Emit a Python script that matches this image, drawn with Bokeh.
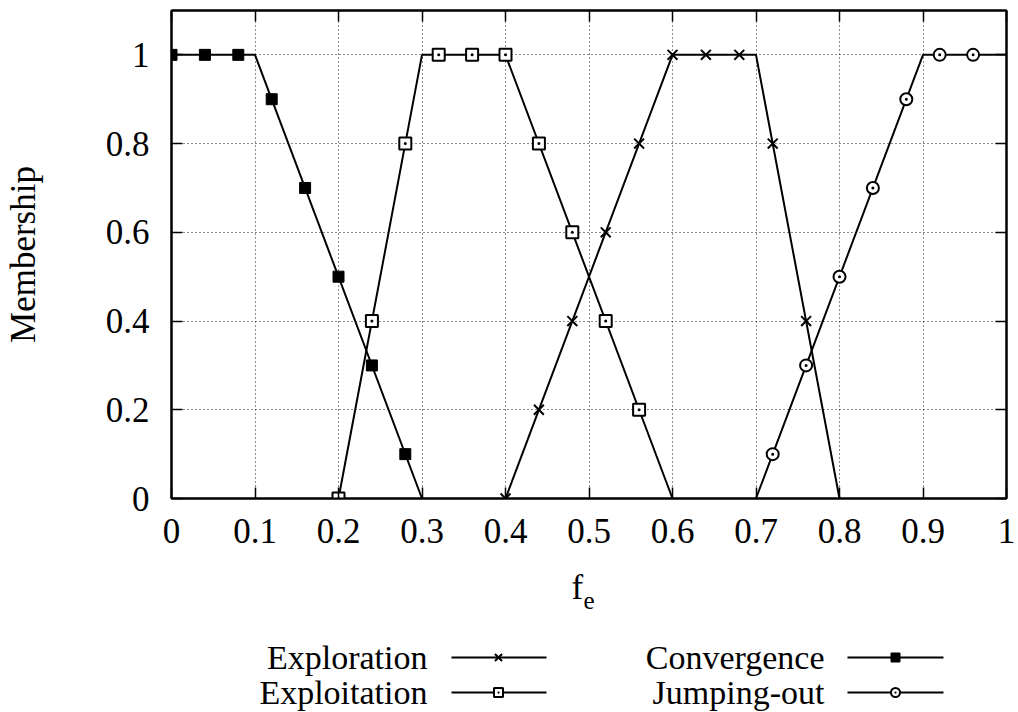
from bokeh.plotting import figure
from bokeh.layouts import column
from bokeh.models import (Range1d, LinearAxis, FixedTicker, NumeralTickFormatter,
                          CustomJSTickFormatter)
from bokeh.core.properties import value
from bokeh.embed import file_html
from bokeh.resources import INLINE

FONT = "Liberation Serif"

# ---------------- data ----------------
x_ticks = [0, 0.1, 0.2, 0.3, 0.4, 0.5, 0.6, 0.7, 0.8, 0.9, 1.0]
y_ticks = [0, 0.2, 0.4, 0.6, 0.8, 1.0]

# membership functions (breakpoints)
conv_line_x = [0, 0.1, 0.3]
conv_line_y = [1, 1, 0]
expt_line_x = [0.2, 0.3, 0.4, 0.6]
expt_line_y = [0, 1, 1, 0]
expr_line_x = [0.4, 0.6, 0.7, 0.8]
expr_line_y = [0, 1, 1, 0]
jump_line_x = [0.7, 0.9, 1.0]
jump_line_y = [0, 1, 1]

# sampled points (markers)
conv_pts_x = [0, 0.04, 0.08, 0.12, 0.16, 0.20, 0.24, 0.28]
conv_pts_y = [1, 1, 1, 0.9, 0.7, 0.5, 0.3, 0.1]
expt_pts_x = [0.2, 0.24, 0.28, 0.32, 0.36, 0.40, 0.44, 0.48, 0.52, 0.56]
expt_pts_y = [0, 0.4, 0.8, 1, 1, 1, 0.8, 0.6, 0.4, 0.2]
expr_pts_x = [0.4, 0.44, 0.48, 0.52, 0.56, 0.60, 0.64, 0.68, 0.72, 0.76]
expr_pts_y = [0, 0.2, 0.4, 0.6, 0.8, 1, 1, 1, 0.8, 0.4]
jump_pts_x = [0.72, 0.76, 0.80, 0.84, 0.88, 0.92, 0.96]
jump_pts_y = [0.1, 0.3, 0.5, 0.7, 0.9, 1, 1]

x_label_main = "f"
x_label_sub = "e"
legend_names = ["Exploration", "Exploitation", "Convergence", "Jumping-out"]
legend_markers = ["x", "square_dot", "square", "circle_dot"]

# ---------------- main plot ----------------
W, H_MAIN = 1018, 566
H_LEG = 712 - H_MAIN
BL, BR, BT, BB = 171, 12, 10, 68
p = figure(width=W, height=H_MAIN, x_range=Range1d(0, 1), y_range=Range1d(0, 1.1),
           output_backend="svg", toolbar_location=None,
           min_border_left=BL, min_border_right=BR, min_border_top=BT, min_border_bottom=BB)
p.outline_line_color = "black"
p.outline_line_width = 2
p.background_fill_color = "white"
p.border_fill_color = "white"

xt = FixedTicker(ticks=x_ticks, minor_ticks=[])
yt = FixedTicker(ticks=y_ticks, minor_ticks=[])
fmt = NumeralTickFormatter(format="0.[0]")
blank = CustomJSTickFormatter(code="return ''")


def style_axis(ax):
    ax.major_tick_in = 11
    ax.major_tick_out = 0
    ax.minor_tick_in = 0
    ax.minor_tick_out = 0
    ax.axis_line_width = 2
    ax.axis_line_color = "black"
    ax.major_tick_line_width = 1.5
    ax.major_tick_line_color = "black"
    ax.major_label_text_font = FONT
    ax.major_label_text_color = "black"
    ax.major_label_text_font_size = "35px"
    ax.axis_label_text_font = FONT
    ax.axis_label_text_font_style = "normal"
    ax.axis_label_text_color = "black"
    ax.axis_label_text_font_size = "35px"


xa = p.xaxis[0]
xa.ticker = xt
xa.formatter = fmt
style_axis(xa)
xa.major_label_standoff = 20

ya = p.yaxis[0]
ya.ticker = yt
ya.formatter = fmt
style_axis(ya)
ya.major_label_standoff = 22
ya.axis_label = "Membership"
ya.axis_label_standoff = 60

ra = LinearAxis(ticker=yt, formatter=blank)
style_axis(ra)
ra.major_label_standoff = 0
p.add_layout(ra, "right")
ta = LinearAxis(ticker=xt, formatter=blank)
style_axis(ta)
ta.major_label_standoff = 0
p.add_layout(ta, "above")

p.xgrid.ticker = xt
p.ygrid.ticker = yt
for g in (p.xgrid[0], p.ygrid[0]):
    g.grid_line_color = "black"
    g.grid_line_dash = "1 3"
    g.grid_line_width = 1
    g.grid_line_alpha = 0.9

LW = 2
p.line(conv_line_x, conv_line_y, line_color="black", line_width=LW)
p.line(expt_line_x, expt_line_y, line_color="black", line_width=LW)
p.line(expr_line_x, expr_line_y, line_color="black", line_width=LW)
p.line(jump_line_x, jump_line_y, line_color="black", line_width=LW)

p.scatter(conv_pts_x, conv_pts_y, marker="square", size=11,
          fill_color="black", line_color="black")
p.scatter(expt_pts_x, expt_pts_y, marker="square_dot", size=12,
          fill_color="white", line_color="black", line_width=2)
p.scatter(expr_pts_x, expr_pts_y, marker="x", size=14,
          line_color="black", line_width=2)
p.scatter(jump_pts_x, jump_pts_y, marker="circle_dot", size=12,
          fill_color="white", line_color="black", line_width=2)

# ---------------- x label + legend (lower panel, pixel-like coordinates) ----------------
lg = figure(width=W, height=H_LEG, x_range=Range1d(BL, W - BR), y_range=Range1d(H_LEG, 0),
            output_backend="svg", toolbar_location=None,
            x_axis_type=None, y_axis_type=None,
            min_border_left=BL, min_border_right=BR, min_border_top=0, min_border_bottom=0)
lg.outline_line_color = None
lg.grid.visible = False
lg.background_fill_color = "white"
lg.border_fill_color = "white"

top = H_MAIN
lg.text(x=[571], y=[587 - top], text=[x_label_main], text_font=value(FONT),
        text_font_size="35px", text_align="left", text_baseline="middle", text_color="black")
lg.text(x=[583], y=[600 - top], text=[x_label_sub], text_font=value(FONT),
        text_font_size="25px", text_align="left", text_baseline="middle", text_color="black")

text_right = [427, 427, 824, 824]
line_y = [657 - top, 692 - top, 657 - top, 692 - top]
seg_x0 = [451, 451, 847, 847]
seg_x1 = [546, 546, 943, 943]
mark_x = [498, 498, 895, 895]

lg.text(x=text_right, y=line_y, text=legend_names, text_font=value(FONT),
        text_font_size="34px", text_align="right", text_baseline="middle",
        text_color="black")
lg.segment(x0=seg_x0, y0=line_y, x1=seg_x1, y1=line_y, line_color="black", line_width=2)
for i, m in enumerate(legend_markers):
    fill = "black" if m == "square" else "white"
    lg.scatter([mark_x[i]], [line_y[i]], marker=m, size=10 if m == "x" else 9,
               fill_color=fill, line_color="black",
               line_width=2 if m != "square" else 1)

layout = column(p, lg, spacing=0)
open("out.html", "w").write(file_html(layout, INLINE))
